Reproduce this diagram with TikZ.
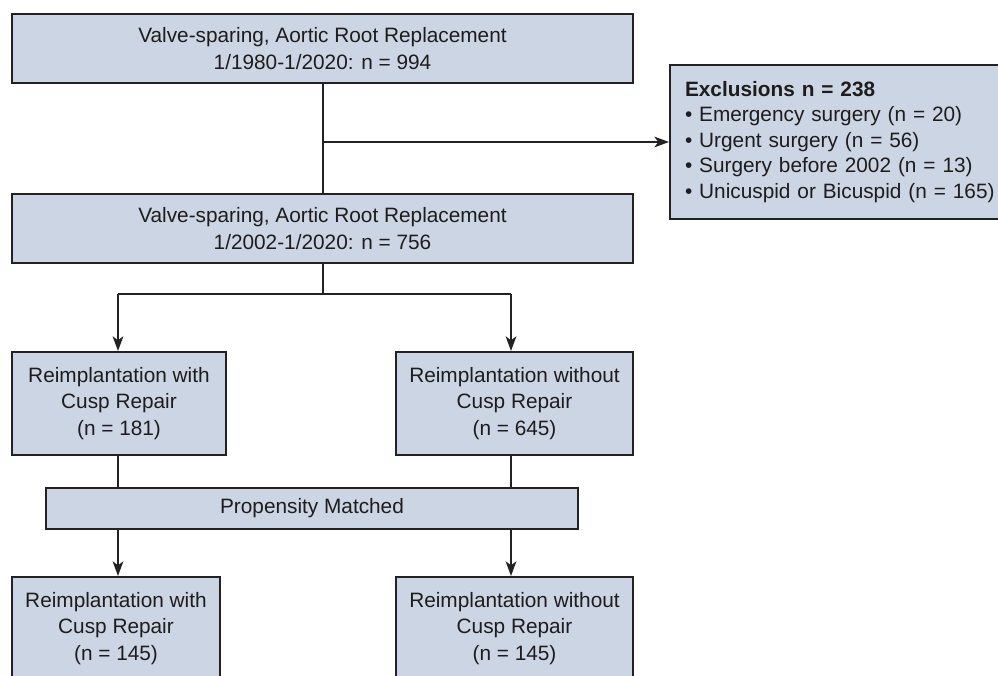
\documentclass[tikz,border=0pt]{standalone}
\usepackage{fontspec}
\setmainfont{Liberation Sans}
\usetikzlibrary{arrows.meta, positioning}
\definecolor{boxfill}{RGB}{204,213,227}
\definecolor{boxline}{RGB}{35,33,33}
\definecolor{ink}{RGB}{30,28,28}

\begin{document}
\begin{tikzpicture}[x=0.75pt, y=-0.75pt,
  box/.style={draw=boxline, fill=boxfill, line width=1.5pt, inner sep=0pt, align=center, text=ink,
    font=\fontsize{15.6}{19.6}\selectfont},
  link/.style={draw=boxline, line width=1.5pt},
  arr/.style={link, -{Stealth[length=11pt, width=8pt, inset=3pt]}}]
\clip (0,0) rectangle (998,675);

% Cohort
\node[box, minimum width=465.75pt, minimum height=51.75pt] (vsall) at (322.5,48.5)
  {Valve-sparing, Aortic Root Replacement\\1/1980-1/2020: n = 994};
\node[box, minimum width=465.75pt, minimum height=51.75pt] (vsinc) at (322.5,228.5)
  {Valve-sparing, Aortic Root Replacement\\1/2002-1/2020: n = 756};
\node[box, anchor=west, align=left, inner xsep=11.25pt, text width=247.5pt, minimum height=115.5pt,
  font=\fontsize{15.6}{19.2}\selectfont] (excl) at (669,142)
  {\textbf{Exclusions n = 238}\\
   • Emergency surgery (n = 20)\\
   • Urgent surgery (n = 56)\\
   • Surgery before 2002 (n = 13)\\
   • Unicuspid or Bicuspid (n = 165)};

% Groups
\node[box, minimum width=160.5pt, minimum height=77.25pt] (allrep) at (119,403.5)
  {Reimplantation with\\Cusp Repair\\(n = 181)};
\node[box, minimum width=177.75pt, minimum height=77.25pt] (allnorep) at (514.5,403.5)
  {Reimplantation without\\Cusp Repair\\(n = 645)};
\node[box, minimum width=399pt, minimum height=30.75pt] (match) at (312,508.5) {Propensity Matched};

% Matched groups
\node[box, minimum width=156pt, minimum height=77.25pt] (pmrep) at (116,628.5)
  {Reimplantation with\\Cusp Repair\\(n = 145)};
\node[box, minimum width=177.75pt, minimum height=77.25pt] (pmnorep) at (514.5,628.5)
  {Reimplantation without\\Cusp Repair\\(n = 145)};

\coordinate (splitl) at (118,294);
\coordinate (splitr) at (511,294);

\draw[link] (vsall.south) -- (vsinc.north);
\draw[arr] (vsall.south |- excl.west) -- (excl.west);
\draw[link] (vsinc.south) -- (vsinc.south |- splitl);
\draw[link] (splitl) -- (splitr);
\draw[arr] (splitl) -- (splitl |- allrep.north);
\draw[arr] (splitr) -- (splitr |- allnorep.north);
\draw[link] (splitl |- allrep.south) -- (splitl |- match.north);
\draw[link] (splitr |- allnorep.south) -- (splitr |- match.north);
\draw[arr] (splitl |- match.south) -- (splitl |- pmrep.north);
\draw[arr] (splitr |- match.south) -- (splitr |- pmnorep.north);
\end{tikzpicture}
\end{document}
